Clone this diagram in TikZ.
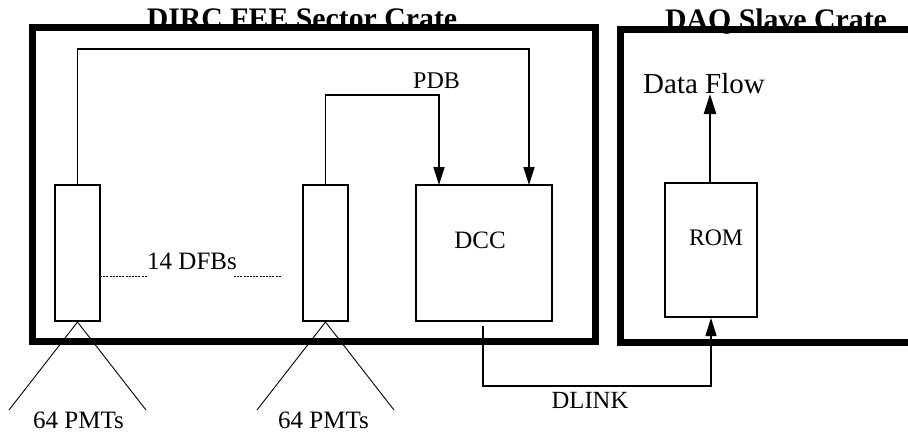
\documentclass[tikz,border=0pt]{standalone}
\usepackage{fontspec}
\setmainfont{Liberation Serif}
\usetikzlibrary{arrows.meta}
\begin{document}
\begin{tikzpicture}[x=1pt,y=-1pt,
  crate/.style={line width=7pt},
  board/.style={draw,line width=2pt,inner sep=0pt,minimum width=#1},
  wire/.style={line width=1.6pt},
  arr/.style={wire,-{Triangle[length=18pt,width=11pt]}},
  fan/.style={line width=0.9pt},
  lbl/.style={inner sep=0pt,font=\fontsize{25}{30}\selectfont},
  ttl/.style={inner sep=0pt,font=\fontsize{29.8}{34}\selectfont\bfseries,anchor=base}]
\useasboundingbox (0,0) rectangle (908,434);
% titles
\node[ttl] (t1) at (302,28) {DIRC FEE Sector Crate};
\node[ttl] (t2) at (776,29) {DAQ Slave Crate};
% crates
\draw[crate] (32.5,27.5) rectangle (595,341);
\draw[crate] (912,29) -- (620,29) -- (620,342) -- (912,342);
% boards
\node[board=45pt,minimum height=136pt] (dfb1) at (77.5,253) {};
\node[board=45pt,minimum height=136pt] (dfb2) at (325.5,253) {};
\node[board=136pt,minimum height=136pt] (dcc) at (484,253) {};
\node[board=92pt,minimum height=134pt] (rom) at (711,250) {};
% texts
\node[lbl,anchor=base] (dcct) at (480,248) {DCC};
\node[lbl,anchor=base,font=\fontsize{23.7}{28}\selectfont] (romt) at (716,245) {ROM};
\node[lbl,anchor=base west,font=\fontsize{24}{29}\selectfont] (pdb) at (413,88) {PDB};
\node[lbl,anchor=base west,font=\fontsize{29}{34}\selectfont] (flow) at (643,93) {Data Flow};
\node[lbl,anchor=base west] (dfbs) at (147,269) {14 DFBs};
\node[lbl,anchor=base west] (pmt1) at (33,428) {64 PMTs};
\node[lbl,anchor=base west] (pmt2) at (278,428) {64 PMTs};
\node[lbl,anchor=base,font=\fontsize{24.7}{29}\selectfont] (dlink) at (590,408) {DLINK};
% coordinates
\coordinate (top1) at (529,49);
\coordinate (in1) at (529,185);
\coordinate (top2) at (439,95);
\coordinate (in2) at (439,185);
\coordinate (dl) at (711,386);
\coordinate (flowtip) at (710,94);
\coordinate (d1a) at (100,276);
\coordinate (d1b) at (147,276);
\coordinate (d2a) at (234,276);
\coordinate (d2b) at (282,276);
\coordinate (p1a) at (9,410);
\coordinate (p1b) at (146,410);
\coordinate (p2a) at (257,410);
\coordinate (p2b) at (394,410);
% connectors
\draw[arr] (dfb1.north) |- (top1) -- (in1);
\draw[arr] (dfb2.north) |- (top2) -- (in2);
\draw[arr] ([xshift=-1pt,yshift=-4pt]dcc.south) |- (dl) -- (rom.south);
\draw[line width=2.6pt,-{Triangle[length=20pt,width=12pt]}] ([xshift=-1pt]rom.north) -- (flowtip);
\draw[line width=0.8pt,dash pattern=on 2pt off 1.2pt] (d1a) -- (d1b);
\draw[line width=0.8pt,dash pattern=on 2pt off 1.2pt] (d2a) -- (d2b);
\draw[fan] (p1a) -- (dfb1.south) -- (p1b);
\draw[fan] (p2a) -- (dfb2.south) -- (p2b);
\end{tikzpicture}
\end{document}
